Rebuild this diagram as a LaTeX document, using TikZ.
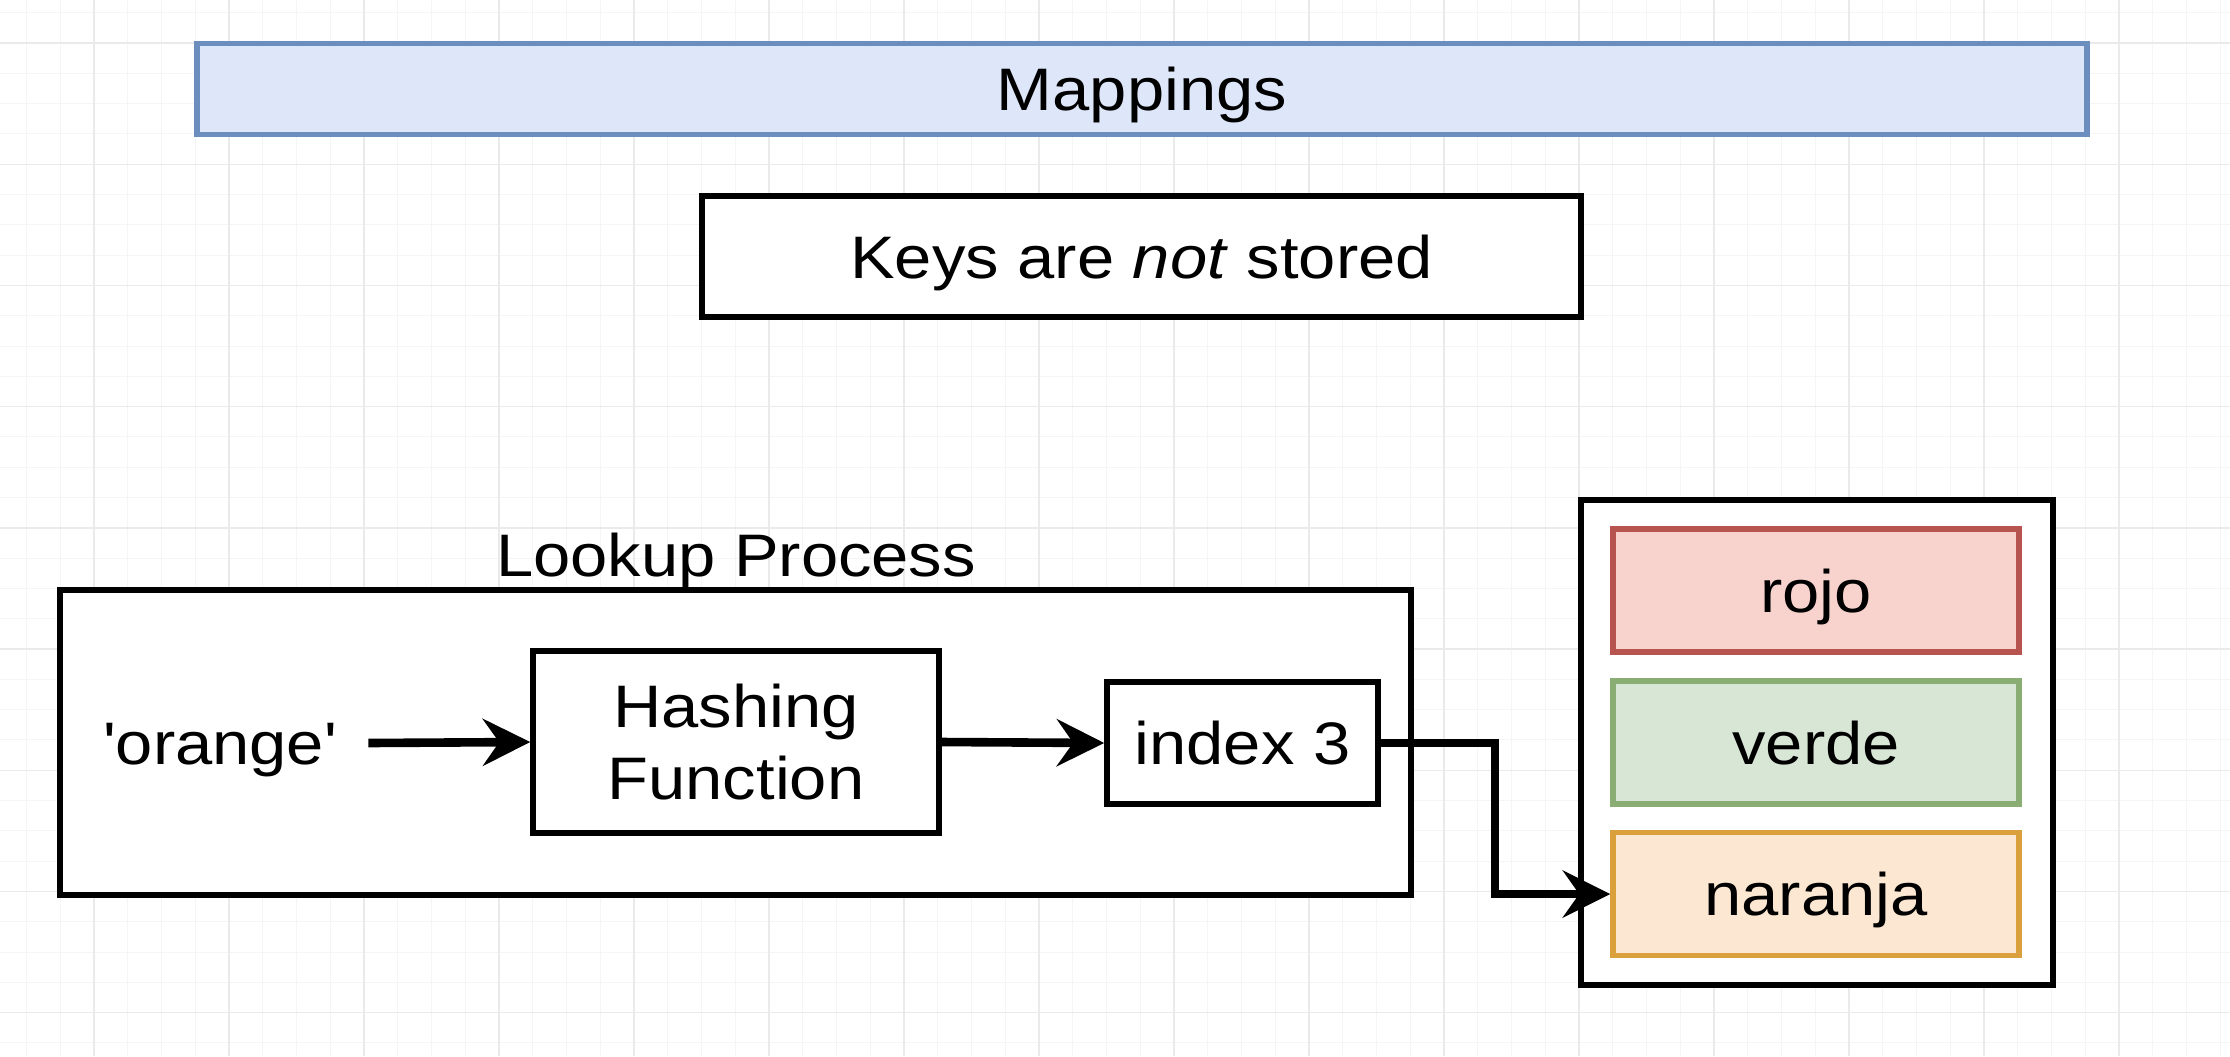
\documentclass[tikz,border=0pt]{standalone}
\usepackage{fontspec}
\setmainfont{Liberation Sans}
\newfontfamily\plainsans{Liberation Sans}
\usepackage{graphicx}
\usetikzlibrary{arrows.meta}
\newcommand{\hs}[1]{\scalebox{1.115}[1]{#1}}
\definecolor{mapfill}{HTML}{DDE7F9}
\definecolor{mapdraw}{HTML}{6C8EBF}
\definecolor{redfill}{HTML}{F8D3CE}
\definecolor{reddraw}{HTML}{B85450}
\definecolor{greenfill}{HTML}{D8E6D6}
\definecolor{greendraw}{HTML}{8AAD73}
\definecolor{orangefill}{HTML}{FCE8D2}
\definecolor{orangedraw}{HTML}{D9A03C}
\definecolor{gridmaj}{HTML}{EAEAEA}
\definecolor{gridmin}{HTML}{F5F5F5}
\begin{document}
\begin{tikzpicture}[x=0.5pt,y=-0.5pt,
  box/.style={draw=black, line width=2.8pt, rectangle, inner sep=0pt, fill=white},
  txt/.style={font=\fontsize{30}{36}\selectfont, text height=21.5pt, text depth=0pt, inner sep=0pt},
  txtml/.style={font=\fontsize{30}{36}\selectfont, align=center, inner sep=0pt},
  conn/.style={line width=4.3pt, line join=miter, -{Stealth[length=24pt,width=24pt,inset=8.5pt,line width=0pt]}},
  cellbox/.style={box, minimum width=203pt, minimum height=61.5pt}
]
\useasboundingbox (0,0) rectangle (2230,1056);
\fill[white] (0,0) rectangle (2230,1056);
% grid
\foreach \i in {-2,...,63} \draw[gridmin, line width=0.5pt] ({94+33.75*\i},0) -- ({94+33.75*\i},1056);
\foreach \j in {-1,...,34} \draw[gridmin, line width=0.5pt] (0,{43+30.3*\j}) -- (2230,{43+30.3*\j});
\foreach \i in {0,...,15} \draw[gridmaj, line width=0.7pt] ({94+135*\i},0) -- ({94+135*\i},1056);
\foreach \j in {0,...,8} \draw[gridmaj, line width=0.7pt] (0,{43+121.2*\j}) -- (2230,{43+121.2*\j});

% title
\node[box, draw=mapdraw, fill=mapfill, minimum width=945pt, minimum height=45.5pt, txt] (map) at (1142,89) {\hs{Mappings}};
\node[box, minimum width=439.5pt, minimum height=60.5pt, txt] (keys) at (1141.5,256.5) {\hs{Keys are \textit{not} stored}};

% lookup process
\node[box, minimum width=675.5pt, minimum height=152.5pt] (lookup) at (735.5,742.5) {};
\node[txt, anchor=base] (lkl) at (736,576) {\hs{Lookup Process}};
\node[txt, minimum width=148pt] (orange) at (220,743) {\hs{\plainsans 'orange'}};
\node[box, minimum width=203pt, minimum height=91pt, txtml] (hash) at (736,742) {\hs{Hashing}\\\hs{Function}};
\node[box, minimum width=135.5pt, minimum height=61pt, txt] (idx) at (1242.5,743) {\hs{index 3}};

% storage
\node[box, minimum width=236pt, minimum height=242.5pt] (store) at (1817,742.5) {};
\node[cellbox, draw=reddraw, fill=redfill, txt] (rojo) at (1816,590.5) {\hs{rojo}};
\node[cellbox, draw=greendraw, fill=greenfill, txt] (verde) at (1816,742.5) {\hs{verde}};
\node[cellbox, draw=orangedraw, fill=orangefill, txt] (nar) at (1816,894) {\hs{naranja}};

% connectors
\coordinate (bend) at (1495,743);
\draw[conn] (orange.east) -- (hash.west);
\draw[conn] (hash.east) -- (idx.west);
\draw[conn] (idx.east) -- (bend) |- (nar.west);
\end{tikzpicture}
\end{document}
